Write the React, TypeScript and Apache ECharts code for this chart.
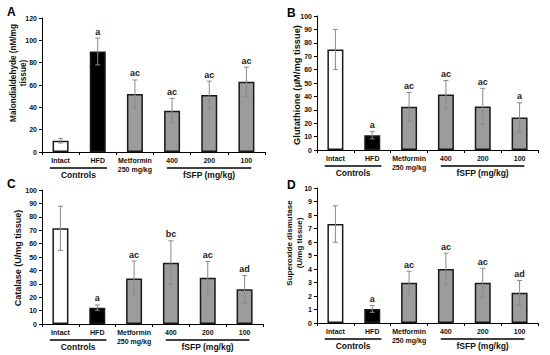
import React, { useEffect, useRef } from "react";
import * as echarts from "echarts";

const categories = ["Intact", "HFD", "Metformin\n250 mg/kg", "400", "200", "100"];

const mdaMean = [10, 90, 52, 37, 51, 63];
const mdaErr = [2, 12, 12.5, 11, 12.5, 13];
const mdaSig = ["", "a", "ac", "ac", "ac", "ac"];

const gshMean = [75, 11, 32.3, 41.4, 32.5, 24.2];
const gshErr = [15, 2.7, 10.6, 10.5, 13.5, 11];
const gshSig = ["", "a", "ac", "ac", "ac", "a"];

const catMean = [71.4, 12.2, 34, 45.8, 34.6, 25.9];
const catErr = [16.5, 2, 13, 16.3, 12, 10.3];
const catSig = ["", "a", "ac", "bc", "ac", "ad"];

const sodMean = [7.33, 1.04, 2.98, 4.0, 2.98, 2.25];
const sodErr = [1.35, 0.25, 0.86, 1.17, 1.07, 0.9];
const sodSig = ["", "a", "ac", "ac", "ac", "ad"];

const yMaxes = [120, 100, 100, 10];
const yIntervals = [20, 10, 10, 1];
const yNames = [
  "Malondialdehyde (nM/mg\ntissue)",
  "Glutathione (μM/mg tissue)",
  "Catalase (U/mg tissue)",
  "Superoxide dismutase\n(U/mg tissue)",
];
const panelLetters = ["A", "B", "C", "D"];

const groupLabels = ["Controls", "fSFP (mg/kg)"];
const groupFrom = [0, 3];
const groupTo = [1, 5];

const FONT = "'Liberation Sans', Arial, sans-serif";
const barColors = ["#ffffff", "#000000", "#9c9c9c", "#9c9c9c", "#9c9c9c", "#9c9c9c"];

export default function App() {
  const ref = useRef<HTMLDivElement>(null);
  useEffect(() => {
    const chart = echarts.init(ref.current!, null, { renderer: "svg" });
    const means = [mdaMean, gshMean, catMean, sodMean];
    const errs = [mdaErr, gshErr, catErr, sodErr];
    const sigs = [mdaSig, gshSig, catSig, sodSig];

    const grids = [
      { left: 42, top: 18, width: 223, height: 134 },
      { left: 317, top: 16, width: 221, height: 134 },
      { left: 42, top: 190, width: 221, height: 134 },
      { left: 317, top: 188, width: 221, height: 135 },
    ];
    const yNamePos = [
      [18, 73],
      [297, 85],
      [18, 258],
      [294, 243],
    ];
    const yNameSize = [8.2, 9.3, 9, 8];
    const letterPos = [
      [7, 6],
      [287, 7],
      [7, 178],
      [287, 179],
    ];

    const xAxes = grids.map((_, k) => ({
      type: "category",
      gridIndex: k,
      data: categories,
      axisLine: { lineStyle: { color: "#000", width: 1 } },
      axisTick: { show: true, length: 3, lineStyle: { color: "#000" } },
      axisLabel: {
        interval: 0,
        fontSize: 7,
        fontWeight: "bold",
        fontFamily: FONT,
        color: "#111",
        margin: 4,
        lineHeight: 9,
      },
    }));
    const yAxes = grids.map((_, k) => ({
      type: "value",
      gridIndex: k,
      min: 0,
      max: yMaxes[k],
      interval: yIntervals[k],
      splitLine: { show: false },
      axisLine: { show: true, lineStyle: { color: "#000", width: 1 } },
      axisTick: { show: true, length: 3, lineStyle: { color: "#000" } },
      axisLabel: {
        fontSize: 7,
        fontWeight: "bold",
        fontFamily: FONT,
        color: "#111",
        margin: 5,
      },
    }));

    const series: any[] = [];
    grids.forEach((_, k) => {
      series.push({
        type: "bar",
        xAxisIndex: k,
        yAxisIndex: k,
        barWidth: 16,
        data: means[k].map((v, i) => ({
          value: v,
          itemStyle: { color: barColors[i], borderColor: "#1a1a1a", borderWidth: 1.5 },
        })),
        silent: true,
      });
      const sig = sigs[k];
      series.push({
        type: "custom",
        xAxisIndex: k,
        yAxisIndex: k,
        z: 5,
        silent: true,
        data: means[k].map((v, i) => [i, v, errs[k][i]]),
        renderItem: (params: any, api: any) => {
          const i = api.value(0);
          const m = api.value(1);
          const e = api.value(2);
          const top = api.coord([i, m + e]);
          const bot = api.coord([i, m - e]);
          const w = 2.5;
          const style = { stroke: "#8a8a8a", lineWidth: 1 };
          const children: any[] = [
            { type: "line", shape: { x1: top[0], y1: top[1], x2: bot[0], y2: bot[1] }, style },
            { type: "line", shape: { x1: top[0] - w, y1: top[1], x2: top[0] + w, y2: top[1] }, style },
            { type: "line", shape: { x1: bot[0] - w, y1: bot[1], x2: bot[0] + w, y2: bot[1] }, style },
          ];
          const s = sig[params.dataIndex];
          if (s) {
            children.push({
              type: "text",
              x: top[0],
              y: top[1] - 2,
              style: {
                text: s,
                align: "center",
                verticalAlign: "bottom",
                fontSize: 9,
                fontWeight: "bold",
                fontFamily: FONT,
                fill: "#222",
              },
            });
          }
          return { type: "group", children };
        },
      });
      series.push({
        type: "custom",
        xAxisIndex: k,
        yAxisIndex: k,
        silent: true,
        clip: false,
        data: groupFrom.map((f, g) => [f, groupTo[g]]),
        renderItem: (params: any, api: any) => {
          const g = params.dataIndex;
          const a = api.coord([groupFrom[g], 0]);
          const b = api.coord([groupTo[g], 0]);
          const band = api.size([1, 0])[0];
          const l = g === 0 ? 0.29 : 0.14;
          const r = g === 0 ? 0.25 : 0.13;
          const x1 = a[0] - l * band;
          const x2 = b[0] + r * band;
          const y = a[1] + 16;
          return {
            type: "group",
            children: [
              { type: "line", shape: { x1, y1: y, x2, y2: y }, style: { stroke: "#000", lineWidth: 1.5 } },
              {
                type: "text",
                x: (x1 + x2) / 2,
                y: y + 2,
                style: {
                  text: groupLabels[g],
                  align: "center",
                  verticalAlign: "top",
                  fontSize: 8.5,
                  fontWeight: "bold",
                  fontFamily: FONT,
                  fill: "#111",
                },
              },
            ],
          };
        },
      });
    });

    const graphic: any[] = [];
    grids.forEach((_, k) => {
      graphic.push({
        type: "text",
        x: yNamePos[k][0],
        y: yNamePos[k][1],
        rotation: Math.PI / 2,
        style: {
          text: yNames[k],
          align: "center",
          verticalAlign: "middle",
          fontSize: yNameSize[k],
          fontWeight: "bold",
          fontFamily: FONT,
          fill: "#111",
          lineHeight: 10,
        },
      });
      graphic.push({
        type: "text",
        x: letterPos[k][0],
        y: letterPos[k][1],
        style: {
          text: panelLetters[k],
          fontSize: 12,
          fontWeight: "bold",
          fontFamily: FONT,
          fill: "#000",
        },
      });
    });

    chart.setOption({
      animation: false,
      backgroundColor: "#fff",
      grid: grids,
      xAxis: xAxes,
      yAxis: yAxes,
      series,
      graphic,
    });
    return () => chart.dispose();
  }, []);
  return (
    <div
      ref={ref}
      style={{ width: 550, height: 355, position: "absolute", left: 0, top: 0 }}
    />
  );
}
